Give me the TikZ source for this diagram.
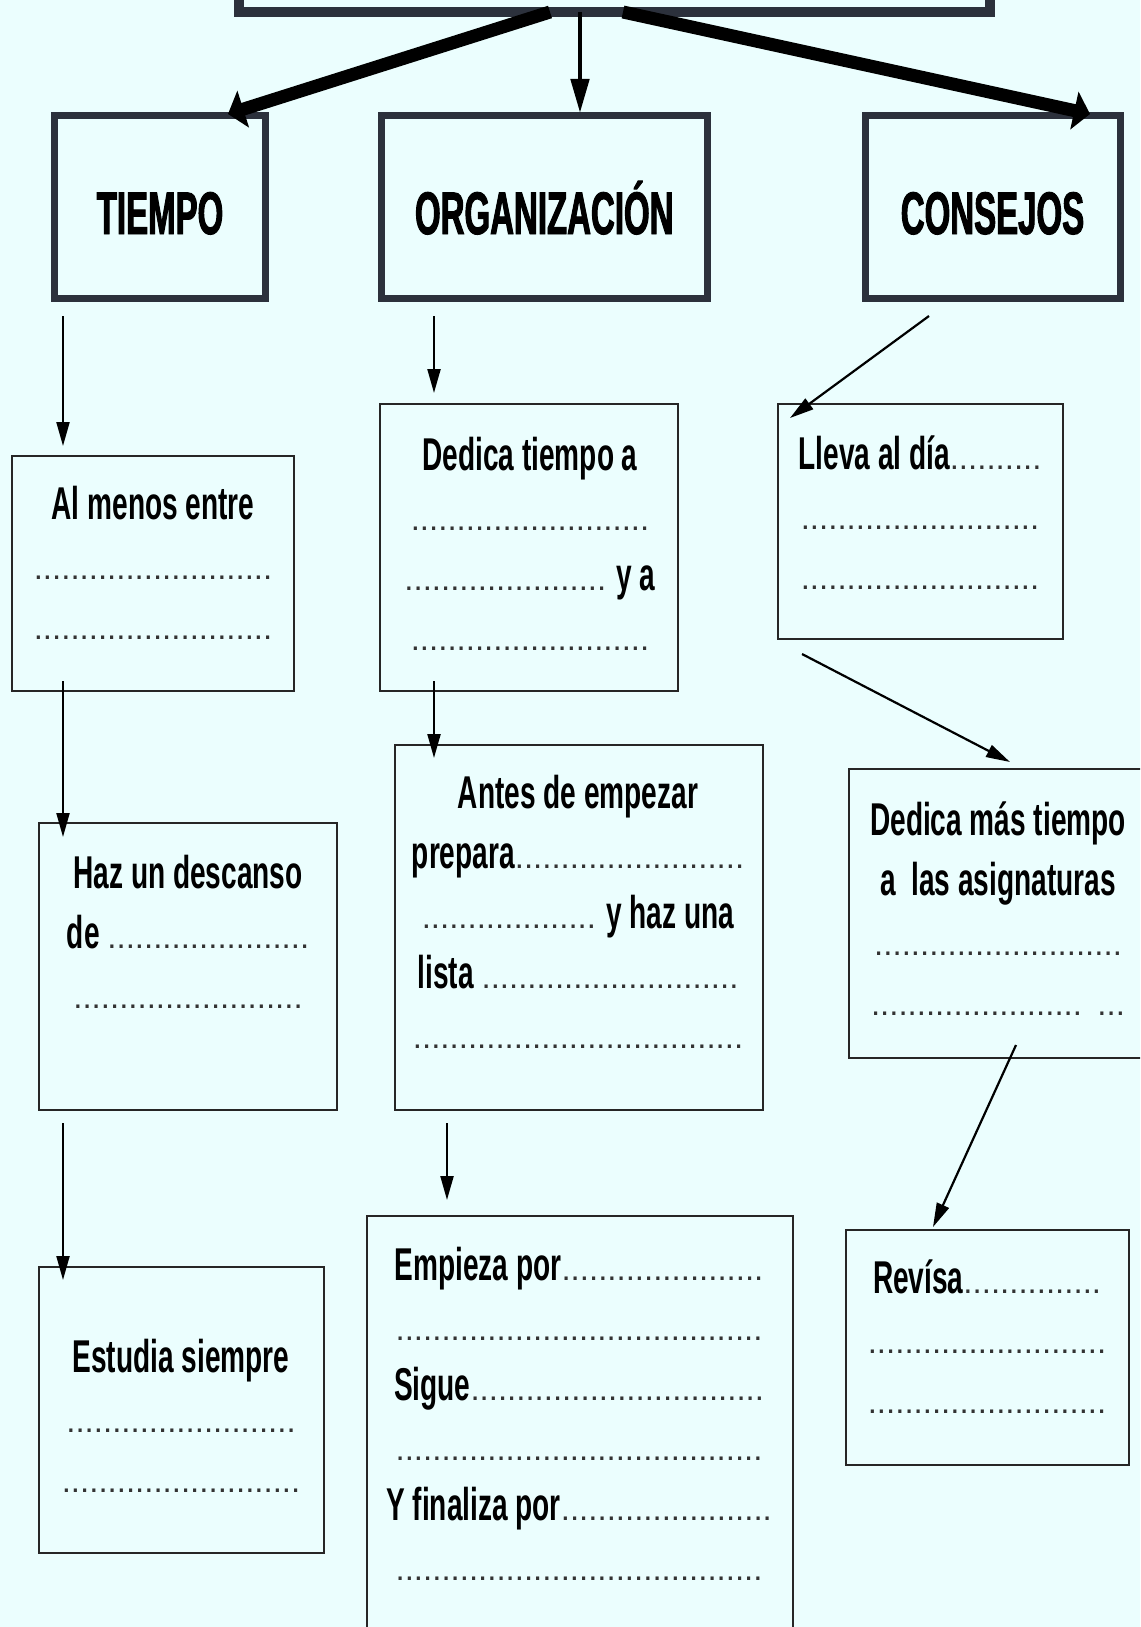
\documentclass[tikz,border=0pt]{standalone}
\usepackage{fontspec}
\newfontfamily\letra[FakeStretch=0.61]{Liberation Sans}
\newfontfamily\titular[FakeStretch=0.55,BoldFeatures={FakeBold=1.6}]{Liberation Sans}
\newfontfamily\punto{Liberation Sans}
\usetikzlibrary{arrows.meta,fit}
\definecolor{fondo}{RGB}{235,254,254}
\definecolor{borde}{RGB}{44,49,60}
\newcommand\pts[1]{{\punto\mdseries\fontsize{16.5}{30}\selectfont\color{black!80}\foreach\x in{1,...,#1}{.}}}
\begin{document}
\begin{tikzpicture}[x=.5pt,y=-.5pt,
    caja/.style={draw=black!85,line width=1.2pt,inner sep=0pt,outer sep=0pt},
    nivel/.style={draw=borde,line width=3.5pt,inner sep=0pt,outer sep=0pt},
    cabe/.style={anchor=base,inner sep=0pt,font=\titular\bfseries\fontsize{30}{36}\selectfont},
    texto/.style={anchor=base,align=center,inner sep=0pt,font=\letra\bfseries\fontsize{23}{30}\selectfont},
    flecha/.style={line width=1.1pt,-{Triangle[length=12pt,width=6.5pt]}},
    media/.style={line width=2.4pt,-{Triangle[length=17pt,width=9pt]}},
    gruesa/.style={line width=6.5pt,-{Triangle[length=8pt,width=19pt]}}]
    \fill[fondo] (0,0) rectangle (1140,1627);
    \useasboundingbox (0,0) rectangle (1140,1627);
    \clip (0,0) rectangle (1140,1627);
    % cabecera
    \node[nivel,line width=5pt,fit={(239,-30)(990,12)}] (titulo) {};
    \node[nivel,fit={(54.5,116)(265.5,298)}] (tiempo) {};
    \node[nivel,fit={(381.5,116)(707,298)}] (org) {};
    \node[nivel,fit={(865,116)(1120,298)}] (consejos) {};
    \node[cabe] (tiempo-t) at ([yshift=-13.5pt]tiempo.center) {TIEMPO};
    \node[cabe] (org-t) at ([yshift=-13.5pt]org.center) {ORGANIZACIÓN};
    \node[cabe] (consejos-t) at ([yshift=-13.5pt]consejos.center) {CONSEJOS};
    % cajas
    \node[caja,fit={(12,456)(294,691)}] (menos) {};
    \node[caja,fit={(39,823)(337,1110)}] (descanso) {};
    \node[caja,fit={(39,1267)(324,1553)}] (estudia) {};
    \node[caja,fit={(380,404)(678,691)}] (dedica) {};
    \node[caja,fit={(395,745)(763,1110)}] (antes) {};
    \node[caja,fit={(367,1216)(793,1660)}] (empieza) {};
    \node[caja,fit={(778,404)(1063,639)}] (lleva) {};
    \node[caja,fit={(849,769)(1160,1058)}] (masdedica) {};
    \node[caja,fit={(846,1230)(1129,1465)}] (revisa) {};
    % textos (anclados en la ultima linea)
    \node[texto] (menos-t) at (153,639) {Al menos entre\\\pts{26}\\\pts{26}};
    \node[texto] (descanso-t) at (188,1008) {Haz un descanso\\de \pts{22}\\\pts{25}};
    \node[texto] (estudia-t) at (181,1492) {Estudia siempre\\\pts{25}\\\pts{26}};
    \node[texto] (dedica-t) at (530,650) {Dedica tiempo a\\\pts{26}\\\pts{22} y a\\\pts{26}};
    \node[texto] (antes-t) at (578,1048) {Antes de empezar\\prepara\pts{25}\\\pts{19} y haz una\\lista \pts{28}\\\pts{36}};
    \node[texto] (empieza-t) at (579,1580) {Empieza por\pts{22}\\\pts{40}\\Sigue\pts{32}\\\pts{40}\\Y finaliza por\pts{23}\\\pts{40}};
    \node[texto] (lleva-t) at (920,589) {Lleva al día\pts{10}\\\pts{26}\\\pts{26}};
    \node[texto] (masdedica-t) at (998,1015) {Dedica más tiempo\\a\ \ las asignaturas\\\pts{27}\\\pts{23}\ \ \pts{3}};
    \node[texto] (revisa-t) at (987,1413) {Revísa\pts{15}\\\pts{26}\\\pts{26}};
    % flechas
    \coordinate (colL) at (550,0);
    \coordinate (colM) at (580,0);
    \coordinate (colR) at (623,0);
    \coordinate (colT) at (63,0);
    \coordinate (colO) at (434,0);
    \coordinate (colE) at (447,0);
    \draw[gruesa] (titulo.south -| colL) -- ([xshift=-18.75pt,yshift=1pt]tiempo.north east);
    \draw[media,shorten >=1.5pt] (titulo.south -| colM) -- (org.north -| colM);
    \draw[gruesa] (titulo.south -| colR) -- ([xshift=-15pt,yshift=1pt]consejos.north east);
    \draw[flecha,shorten <=9pt,shorten >=5pt] (tiempo.south -| colT) -- (menos.north -| colT);
    \draw[flecha,shorten <=-5pt,shorten >=-7pt] (menos.south -| colT) -- (descanso.north -| colT);
    \draw[flecha,shorten <=6.5pt,shorten >=-6.5pt] (descanso.south -| colT) -- (estudia.north -| colT);
    \draw[flecha,shorten <=9pt,shorten >=5.5pt] (org.south -| colO) -- (dedica.north -| colO);
    \draw[flecha,shorten <=-5pt,shorten >=-6.5pt] (dedica.south -| colO) -- (antes.north -| colO);
    \draw[flecha,shorten <=6.5pt,shorten >=8pt] (antes.south -| colE) -- (empieza.north -| colE);
    \draw[flecha] ([xshift=-31.75pt,yshift=-9pt]consejos.south) -- ([xshift=6pt,yshift=-7pt]lleva.north west);
    \draw[flecha] ([xshift=12pt,yshift=-7.5pt]lleva.south west) -- ([xshift=80.5pt,yshift=3.5pt]masdedica.north west);
    \draw[flecha] ([xshift=83.5pt,yshift=6.5pt]masdedica.south west) -- ([xshift=43.5pt,yshift=1.5pt]revisa.north west);
\end{tikzpicture}
\end{document}
